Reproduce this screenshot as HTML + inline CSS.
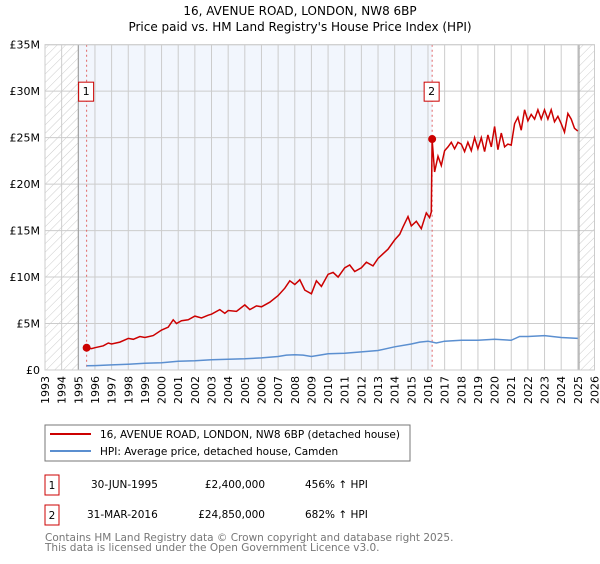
<!DOCTYPE html>
<html><head><meta charset="utf-8"><style>
body{margin:0;background:#fff;font-family:"DejaVu Sans","Liberation Sans",sans-serif;}
svg text{font-family:"DejaVu Sans","Liberation Sans",sans-serif;}
</style></head><body>
<svg id="c" width="600" height="560" xmlns="http://www.w3.org/2000/svg">
<defs><pattern id="hatch" width="6" height="6" patternUnits="userSpaceOnUse" patternTransform="rotate(45)"><line x1="0" y1="0" x2="0" y2="6" stroke="#ccc" stroke-width="1"/></pattern></defs>
<text x="300" y="15" text-anchor="middle" font-size="12">16, AVENUE ROAD, LONDON, NW8 6BP</text>
<text x="300" y="31" text-anchor="middle" font-size="12">Price paid vs. HM Land Registry's House Price Index (HPI)</text>
<g id="plot"></g>
<g>
<rect x="45" y="425" width="365" height="36" fill="#fff" stroke="#777"/>
<line x1="50" y1="434" x2="91" y2="434" stroke="#cc0000" stroke-width="2"/>
<text x="100" y="438" font-size="10.5" textLength="300">16, AVENUE ROAD, LONDON, NW8 6BP (detached house)</text>
<line x1="50" y1="451" x2="91" y2="451" stroke="#5b8fd0" stroke-width="2"/>
<text x="100" y="455" font-size="10.5">HPI: Average price, detached house, Camden</text>
</g>
<g font-size="10.5">
<rect x="45" y="475" width="14" height="20" fill="#fff" stroke="#cc0000"/><text x="52" y="489" text-anchor="middle">1</text>
<text x="91" y="488">30-JUN-1995</text><text x="265" y="488" text-anchor="end">£2,400,000</text><text x="305" y="488">456% ↑ HPI</text>
<rect x="45" y="505" width="14" height="20" fill="#fff" stroke="#cc0000"/><text x="52" y="519" text-anchor="middle">2</text>
<text x="87" y="518">31-MAR-2016</text><text x="265" y="518" text-anchor="end">£24,850,000</text><text x="305" y="518">682% ↑ HPI</text>
</g>
<text x="45" y="541" font-size="10.5" fill="#777">Contains HM Land Registry data © Crown copyright and database right 2025.</text>
<text x="45" y="551" font-size="10.5" fill="#777">This data is licensed under the Open Government Licence v3.0.</text>
</svg>
<script>
const yearTicks=[1993,1994,1995,1996,1997,1998,1999,2000,2001,2002,2003,2004,2005,2006,2007,2008,2009,2010,2011,2012,2013,2014,2015,2016,2017,2018,2019,2020,2021,2022,2023,2024,2025,2026];
const valueTicks=[0,5,10,15,20,25,30,35];
const valueLabels=["£0","£5M","£10M","£15M","£20M","£25M","£30M","£35M"];
const priceYears=[1995.5,1995.8,1996,1996.5,1996.8,1997,1997.5,1998,1998.3,1998.7,1999,1999.5,2000,2000.4,2000.7,2000.9,2001.2,2001.6,2002,2002.4,2002.8,2003,2003.5,2003.8,2004,2004.5,2005,2005.3,2005.7,2006,2006.5,2007,2007.4,2007.7,2008,2008.3,2008.6,2009,2009.3,2009.6,2010,2010.3,2010.6,2011,2011.3,2011.6,2012,2012.3,2012.7,2013,2013.3,2013.6,2014,2014.3,2014.5,2014.8,2015,2015.3,2015.6,2015.9,2016.1,2016.2,2016.25,2016.4,2016.6,2016.8,2017,2017.2,2017.4,2017.6,2017.8,2018,2018.2,2018.4,2018.6,2018.8,2019,2019.2,2019.4,2019.6,2019.8,2020,2020.2,2020.4,2020.6,2020.8,2021,2021.2,2021.4,2021.6,2021.8,2022,2022.2,2022.4,2022.6,2022.8,2023,2023.2,2023.4,2023.6,2023.8,2024,2024.2,2024.4,2024.6,2024.8,2025];
const priceValues=[2.4,2.3,2.4,2.6,2.9,2.8,3.0,3.4,3.3,3.6,3.5,3.7,4.3,4.6,5.4,5.0,5.3,5.4,5.8,5.6,5.9,6.0,6.5,6.1,6.4,6.3,7.0,6.5,6.9,6.8,7.3,8.0,8.8,9.6,9.2,9.7,8.6,8.2,9.6,9.0,10.3,10.5,10.0,11.0,11.3,10.6,11.0,11.6,11.2,12.0,12.5,13.0,14.0,14.6,15.4,16.5,15.5,16.0,15.2,16.9,16.4,17.0,24.85,21.3,23.0,22.0,23.6,24.0,24.5,23.8,24.5,24.3,23.5,24.5,23.6,25.0,23.8,25.0,23.5,25.3,24.0,26.2,23.7,25.5,24.0,24.3,24.2,26.5,27.2,25.8,28.0,26.8,27.5,27.0,28.0,27.0,28.0,27.0,28.0,26.7,27.3,26.5,25.6,27.6,27.0,26.0,25.7];
const hpiYears=[1995.5,1996,1997,1998,1999,2000,2001,2002,2003,2004,2005,2006,2007,2007.5,2008,2008.5,2009,2009.5,2010,2011,2012,2013,2014,2015,2015.5,2016,2016.5,2017,2018,2019,2020,2021,2021.5,2022,2023,2024,2025];
const hpiValues=[0.45,0.47,0.55,0.62,0.72,0.78,0.95,1.0,1.1,1.15,1.2,1.3,1.45,1.6,1.65,1.6,1.45,1.6,1.75,1.8,1.95,2.1,2.5,2.8,3.0,3.1,2.9,3.1,3.2,3.2,3.3,3.2,3.6,3.6,3.7,3.5,3.4];
const sales=[{n:"1",year:1995.5,value:2.4},{n:"2",year:2016.25,value:24.85}];
const L=45,R=594.5,T=44.7,B=370,X0=1993,X1=2026,YMAX=35;
const xs=y=>L+(y-X0)/(X1-X0)*(R-L);
const ys=v=>B-v/YMAX*(B-T);
const NS="http://www.w3.org/2000/svg";
const g=document.getElementById('plot');
function mk(t,a,p){const e=document.createElementNS(NS,t);for(const k in a)e.setAttribute(k,a[k]);(p||g).appendChild(e);return e;}
let e;
e=mk('rect',{x:L,y:T,width:xs(1995)-L,height:B-T,fill:'url(#hatch)'});


e=mk('rect',{x:xs(2025.07),y:T,width:R-xs(2025.07),height:B-T,fill:'url(#hatch)'});


e=mk('rect',{x:xs(1995),y:T,width:xs(2016.25)-xs(1995),height:B-T,fill:'#f2f6fd'});


yearTicks.forEach(y=>{const x=xs(y);
 e=mk('line',{x1:x,y1:T,x2:x,y2:B,stroke:'#ccc','stroke-width':1});
 
 
 e=mk('text',{x:0,y:0,'font-size':11,'text-anchor':'end',transform:`translate(${x+4},${B+6}) rotate(-90)`});e.textContent=y;
 
 
});
valueTicks.forEach((v,i)=>{const y=ys(v);
 e=mk('line',{x1:L,y1:y,x2:R,y2:y,stroke:'#ccc','stroke-width':1});
 
 
 e=mk('text',{x:L-5,y:y+4,'font-size':11,'text-anchor':'end'});e.textContent=valueLabels[i];
 
 
});
[1995,2025.07].forEach(y=>{e=mk('line',{x1:xs(y),y1:T,x2:xs(y),y2:B,stroke:'#999','stroke-width':1});
 
 });
sales.forEach(s=>{e=mk('line',{x1:xs(s.year),y1:T,x2:xs(s.year),y2:B,stroke:'#e06666','stroke-width':1,'stroke-dasharray':'2,3'});
 
 });
e=mk('path',{d:hpiYears.map((y,i)=>(i?'L':'M')+xs(y).toFixed(1)+','+ys(hpiValues[i]).toFixed(1)).join(''),fill:'none',stroke:'#5b8fd0','stroke-width':1.5});


e=mk('path',{d:priceYears.map((y,i)=>(i?'L':'M')+xs(y).toFixed(1)+','+ys(priceValues[i]).toFixed(1)).join(''),fill:'none',stroke:'#cc0000','stroke-width':1.5});


sales.forEach(s=>{
 e=mk('circle',{cx:xs(s.year),cy:ys(s.value),r:4,fill:'#cc0000'});
 
 
 e=mk('rect',{x:xs(s.year)-8,y:ys(30)-9,width:15,height:19,fill:'#fff',stroke:'#cc0000'});
 
 
 e=mk('text',{x:xs(s.year)-0.5,y:ys(30)+4,'font-size':11,'text-anchor':'middle'});e.textContent=s.n;
 
 
});
e=mk('rect',{x:L,y:T,width:R-L,height:B-T,fill:'none',stroke:'#ccc'});


</script>
</body></html>
